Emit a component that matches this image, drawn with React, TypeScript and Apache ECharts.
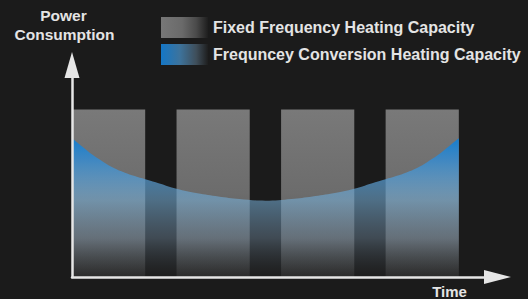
import React, { useEffect, useRef } from "react";
import * as echarts from "echarts";

// ---- data ----
const legendNames = ["Fixed Frequency Heating Capacity", "Frequncey Conversion Heating Capacity"];
const yAxisTitle = ["Power", "Consumption"];
const xAxisTitle = "Time";

// fixed-frequency blocks: start / end along the time axis, and their height
const barStart = [0, 10, 20, 30];
const barEnd = [7, 17, 27, 37];
const barTop = [79, 79, 79, 79];

// frequency-conversion curve
const curveX = [0, 1, 2, 3, 4, 5, 6, 7, 8, 10, 12, 14, 16, 18.5, 21, 23, 25, 27, 29, 30, 31, 32, 33, 34, 35, 36, 37];
const curveY = [65.4, 61.4, 57.5, 54.3, 51.4, 49.3, 47.6, 46.1, 44.7, 41.6, 39.5, 38.0, 36.8, 36.0, 36.8, 38.0, 39.5, 41.6, 44.7, 46.1, 47.6, 49.3, 51.4, 54.3, 57.5, 61.4, 65.4];

const FONT = '"Liberation Sans", Arial, Helvetica, sans-serif';
const TEXT = "#e4e4e4";
const AXIS = "#e6e6e6";

export default function App() {
  const ref = useRef<HTMLDivElement>(null);

  useEffect(() => {
    if (!ref.current) return;
    const chart = echarts.init(ref.current, undefined, { renderer: "svg" });
    const G = echarts.graphic.LinearGradient;

    const barFill = new G(0, 0, 0, 1, [
      { offset: 0, color: "#797979" },
      { offset: 0.5, color: "#6c6c6c" },
      { offset: 0.78, color: "#5a5a5a" },
      { offset: 1, color: "#2c2c2c" },
    ]);
    const areaFill = new G(0, 0, 0, 1, [
      { offset: 0, color: "rgba(22,125,205,1)" },
      { offset: 0.15, color: "rgba(55,138,205,0.88)" },
      { offset: 0.45, color: "rgba(120,178,220,0.55)" },
      { offset: 0.72, color: "rgba(115,140,162,0.42)" },
      { offset: 1, color: "rgba(40,40,40,0.2)" },
    ]);
    const legendGray = new G(0, 0, 1, 0, [
      { offset: 0, color: "#777777" },
      { offset: 0.45, color: "#6a6a6a" },
      { offset: 0.75, color: "#4a4a4a" },
      { offset: 1, color: "#1e1e1e" },
    ]);
    const legendBlue = new G(0, 0, 1, 0, [
      { offset: 0, color: "#1477c7" },
      { offset: 0.4, color: "#3d739c" },
      { offset: 0.75, color: "#3f4e5a" },
      { offset: 1, color: "#1e1e1e" },
    ]);

    const axisCommon = {
      type: "value" as const,
      z: 10,
      axisTick: { show: false },
      axisLabel: { show: false },
      splitLine: { show: false },
    };

    const option: any = {
      animation: false,
      backgroundColor: "#1b1b1b",
      grid: { left: 72, right: 30.5, top: 65, bottom: 22 },
      xAxis: {
        ...axisCommon,
        min: 0,
        max: 40.7,
        axisLine: {
          show: true,
          symbol: ["none", "triangle"],
          symbolSize: [14, 27],
          lineStyle: { color: AXIS, width: 2.5 },
        },
      },
      yAxis: {
        ...axisCommon,
        min: 0,
        max: 100,
        axisLine: {
          show: true,
          symbol: ["none", "triangle"],
          symbolSize: [15, 26],
          lineStyle: { color: AXIS, width: 2.5 },
        },
      },
      legend: {
        orient: "vertical",
        left: 161,
        top: 17,
        padding: 0,
        icon: "rect",
        itemWidth: 47,
        itemHeight: 21,
        itemGap: 6,
        textStyle: { color: TEXT, fontSize: 16, fontWeight: "bold", fontFamily: FONT },
        data: [
          { name: legendNames[0], itemStyle: { color: legendGray, borderWidth: 0 } },
          { name: legendNames[1], itemStyle: { color: legendBlue, borderWidth: 0 } },
        ],
      },
      graphic: [
        {
          type: "text",
          x: 63.5,
          y: 15.5,
          style: { text: yAxisTitle[0], fill: TEXT, font: `bold 15.5px ${FONT}`, align: "center", verticalAlign: "middle" },
        },
        {
          type: "text",
          x: 64.5,
          y: 34,
          style: { text: yAxisTitle[1], fill: TEXT, font: `bold 15.5px ${FONT}`, align: "center", verticalAlign: "middle" },
        },
        {
          type: "text",
          x: 449.5,
          y: 291,
          style: { text: xAxisTitle, fill: TEXT, font: `bold 15px ${FONT}`, align: "center", verticalAlign: "middle" },
        },
      ],
      series: [
        {
          type: "custom",
          name: legendNames[0],
          z: 1,
          encode: { x: [0, 1], y: 2 },
          data: barStart.map((s, i) => [s, barEnd[i], barTop[i]]),
          renderItem: (params: any, api: any) => {
            const p0 = api.coord([api.value(0), api.value(2)]);
            const p1 = api.coord([api.value(1), 0]);
            return {
              type: "rect",
              shape: { x: p0[0], y: p0[1], width: p1[0] - p0[0], height: p1[1] - p0[1] },
              style: { fill: barFill },
            };
          },
        },
        {
          type: "line",
          name: legendNames[1],
          z: 2,
          smooth: 0.4,
          showSymbol: false,
          symbol: "none",
          lineStyle: { width: 0, opacity: 0 },
          areaStyle: { color: areaFill, opacity: 1 },
          data: curveX.map((x, i) => [x, curveY[i]]),
        },
      ],
    };

    chart.setOption(option);
    return () => chart.dispose();
  }, []);

  return (
    <div
      ref={ref}
      style={{ position: "fixed", left: 0, top: 0, width: 528, height: 299, background: "#1b1b1b" }}
    />
  );
}
